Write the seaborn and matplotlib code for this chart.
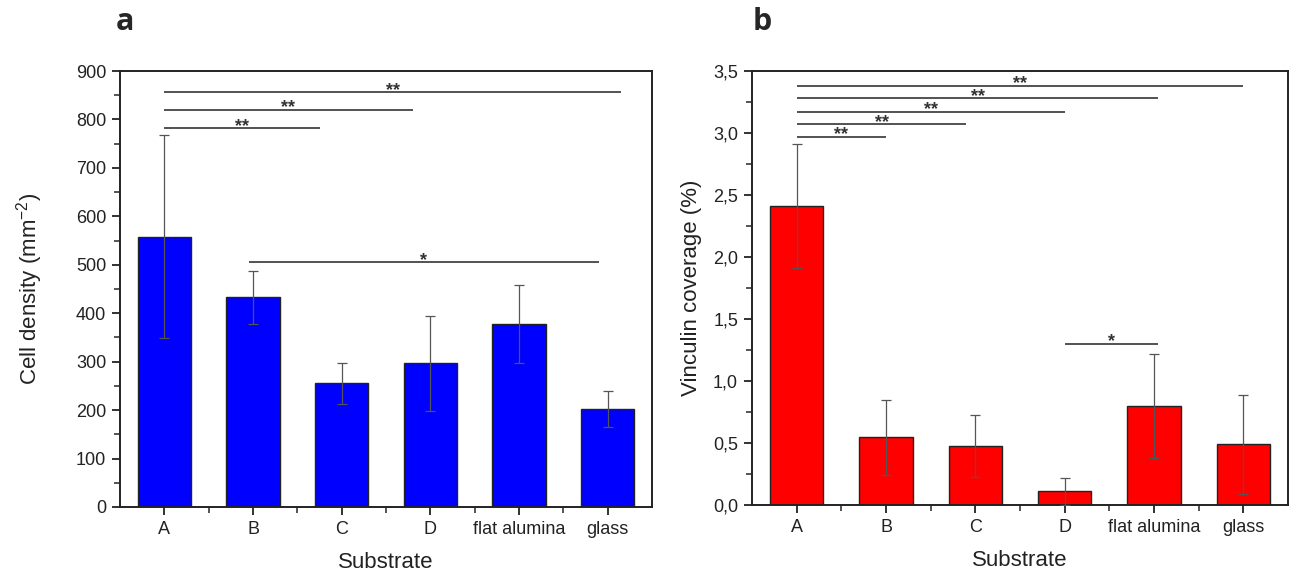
import matplotlib
matplotlib.use("Agg")
import matplotlib.pyplot as plt
import seaborn as sns
import pandas as pd
from matplotlib.ticker import MultipleLocator, FuncFormatter, FixedLocator

# ---- data ----
substrates = ["A", "B", "C", "D", "flat alumina", "glass"]
cell_density = [558, 433, 255, 297, 378, 202]
cell_density_sd = [210, 55, 43, 98, 80, 37]
vinculin = [2.41, 0.545, 0.48, 0.11, 0.80, 0.49]
vinculin_sd = [0.50, 0.30, 0.25, 0.11, 0.42, 0.40]

# significance brackets: (start index, end index, y, label)
sig_a = [(0, 5.15, 856, "**"), (0, 2.8, 820, "**"), (0, 1.75, 782, "**"), (0.95, 4.9, 505, "*")]
sig_b = [(0, 5, 3.38, "**"), (0, 4.05, 3.28, "**"), (0, 3, 3.17, "**"),
         (0, 1.9, 3.07, "**"), (0, 1, 2.97, "**"), (3, 4.05, 1.30, "*")]

sns.set_theme(style="ticks")
plt.rcParams["font.family"] = ["Liberation Sans", "DejaVu Sans"]
plt.rcParams["mathtext.fontset"] = "custom"
plt.rcParams["mathtext.rm"] = "Liberation Sans"
plt.rcParams["mathtext.it"] = "Liberation Sans"

fig = plt.figure(figsize=(12.91, 5.75), dpi=100)
axa = fig.add_axes([0.093, 0.1183, 0.412, 0.7582])
axb = fig.add_axes([0.5825, 0.1217, 0.4152, 0.7548])

err_color = "#555555"
line_color = "#444444"


def panel(ax, vals, sds, color, ylim, major, minor, ylabel, ylabelpad, sigs, fmt, star_off):
    df = pd.DataFrame({"Substrate": substrates, "value": vals})
    sns.barplot(data=df, x="Substrate", y="value", color=color, saturation=1,
                edgecolor="#222222", linewidth=1.0, width=0.6, ax=ax, errorbar=None)
    ax.errorbar(range(len(vals)), vals, yerr=sds, fmt="none", ecolor=err_color,
                elinewidth=0.9, capsize=3.5, capthick=0.9, zorder=5)
    ax.set_xlim(-0.5, 5.5)
    ax.set_ylim(*ylim)
    ax.yaxis.set_major_locator(MultipleLocator(major))
    ax.yaxis.set_minor_locator(MultipleLocator(minor))
    ax.xaxis.set_minor_locator(FixedLocator([0.5, 1.5, 2.5, 3.5, 4.5]))
    ax.yaxis.set_major_formatter(FuncFormatter(fmt))
    ax.tick_params(axis="both", which="major", direction="out", length=6, width=1.3,
                   labelsize=13, colors="#222222", pad=4)
    ax.tick_params(axis="both", which="minor", direction="out", length=4, width=1.1)
    for s in ax.spines.values():
        s.set_visible(True)
        s.set_linewidth(1.4)
        s.set_color("#222222")
    ax.set_xlabel("Substrate", fontsize=16, color="#222222", labelpad=10)
    ax.set_ylabel(ylabel, fontsize=16, color="#222222", labelpad=ylabelpad)
    for x0, x1, y, lab in sigs:
        ax.plot([x0, x1], [y, y], color=line_color, lw=1.3, solid_capstyle="butt", zorder=6)
        ax.text((x0 + x1) / 2, y + star_off, lab, ha="center", va="center",
                fontsize=13, color="#333333", fontweight="bold")


panel(axa, cell_density, cell_density_sd, "#0000ff", (0, 900), 100, 50,
      "Cell density (mm$^{-2}$)", 22, sig_a, lambda v, p: f"{v:.0f}", 4)
panel(axb, vinculin, vinculin_sd, "#ff0000", (0, 3.5), 0.5, 0.25,
      "Vinculin coverage (%)", 8, sig_b, lambda v, p: f"{v:.1f}".replace(".", ","), 0.015)

fig.text(125 / 1291, 1 - 22 / 575, "a", fontsize=22, fontweight="bold",
         ha="center", va="center", family=["Open Sans", "DejaVu Sans"])
fig.text(762 / 1291, 1 - 22 / 575, "b", fontsize=22, fontweight="bold",
         ha="center", va="center", family=["Open Sans", "DejaVu Sans"])

fig.savefig("out.png", dpi=100, facecolor="white")
